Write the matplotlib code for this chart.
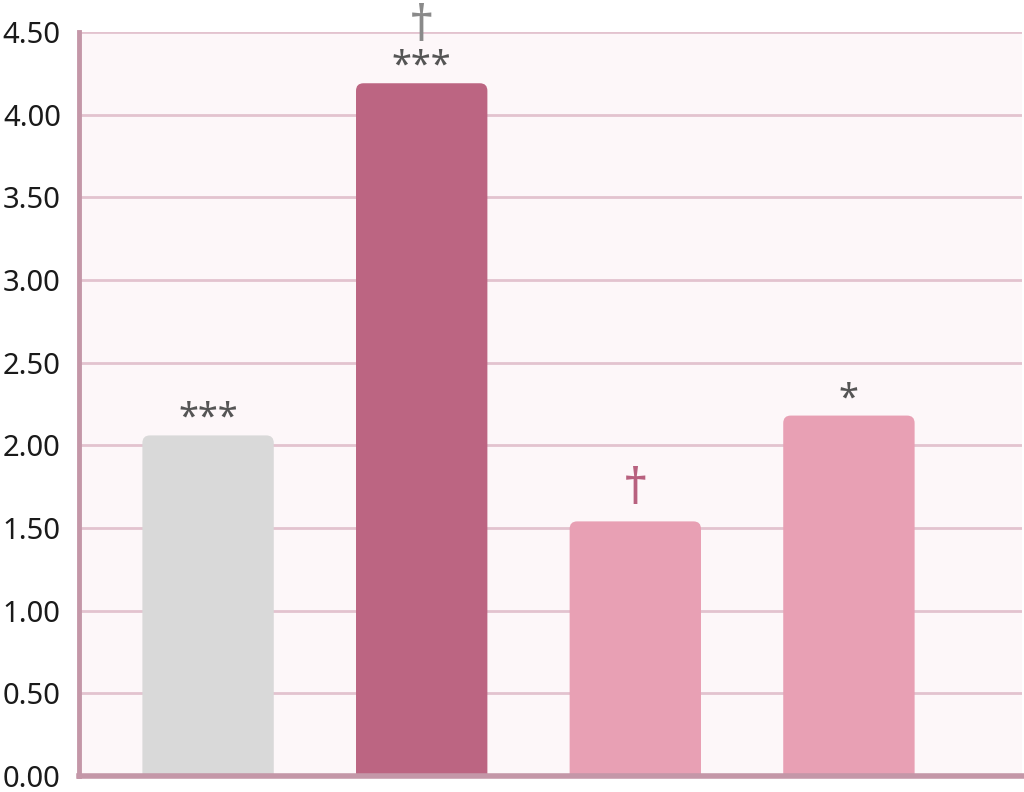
import matplotlib
matplotlib.use("Agg")
import matplotlib.pyplot as plt
from matplotlib.patches import FancyBboxPatch
from matplotlib.ticker import FormatStrFormatter

categories = ["A", "B", "C", "D"]
values = [2.06, 4.19, 1.54, 2.18]
colors = ["#d9d9d9", "#bc6582", "#e8a0b4", "#e8a0b4"]
stars = ["***", "***", "", "*"]
daggers = ["", "†", "†", ""]
dagger_colors = ["#888888", "#8a8a8a", "#b8617f", "#888888"]
yticks = [0, 0.5, 1.0, 1.5, 2.0, 2.5, 3.0, 3.5, 4.0, 4.5]

plt.rcParams['font.family'] = ['Noto Sans', 'DejaVu Sans']

fig = plt.figure(figsize=(10.24, 7.92), dpi=100)
ax = fig.add_axes([0.077, 0.0202, 0.921, 0.9394])
ax.set_facecolor("#fdf7f9")

x = list(range(len(categories)))
bars = ax.bar(x, values, width=0.615, color=colors, zorder=3)

# rounded top corners
for b in bars:
    bx, by, bw, bh = b.get_x(), b.get_y(), b.get_width(), b.get_height()
    b.set_visible(False)
    r = 0.035
    asp = 1.3
    p = FancyBboxPatch((bx + r, by), bw - 2 * r, bh - r * asp,
                       boxstyle="round,pad=%f,rounding_size=%f" % (r, r),
                       mutation_aspect=asp, facecolor=b.get_facecolor(),
                       edgecolor="none", zorder=3)
    ax.add_patch(p)

ax.set_xlim(-0.605, 3.81)
ax.set_ylim(0, 4.5)
ax.set_yticks(yticks)
ax.yaxis.set_major_formatter(FormatStrFormatter("%.2f"))
ax.set_xticks([])
ax.tick_params(axis="y", length=0, pad=13, labelsize=21, labelcolor="#1a1a1a")

ax.grid(axis="y", color="#e3c3cf", linewidth=2, zorder=1)
ax.set_axisbelow(True)
for s in ["top", "right"]:
    ax.spines[s].set_visible(False)
ax.spines["left"].set_color("#c497a8")
ax.spines["left"].set_linewidth(3.5)
ax.spines["bottom"].set_color("#c497a8")
ax.spines["bottom"].set_linewidth(4)
ax.spines["left"].set_zorder(5)
ax.spines["bottom"].set_zorder(5)

for i, v in enumerate(values):
    if stars[i]:
        ax.text(i, v + 0.10, stars[i], ha="center", va="center", fontsize=26,
                color="#555555", fontweight="bold", zorder=4, clip_on=False)
        dy = 0.335
    else:
        dy = 0.185
    if daggers[i]:
        ax.text(i, v + dy, daggers[i], ha="center", va="center", fontsize=36,
                color=dagger_colors[i], zorder=4, clip_on=False)

fig.savefig("out.png", dpi=100, facecolor="white")
